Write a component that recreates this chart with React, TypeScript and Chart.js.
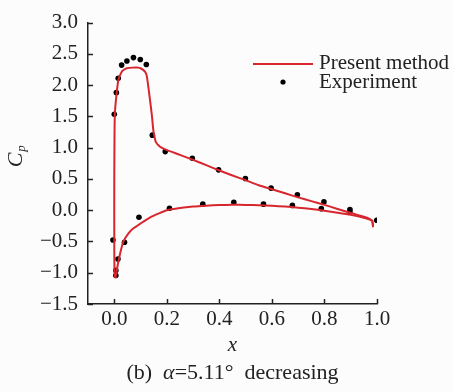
import React, { useEffect, useRef } from "react";
import { Chart, registerables } from "chart.js";

Chart.register(...registerables);

// Present method: upper surface (trailing edge -> leading edge)
const upperX = [0.985, 0.982, 0.97, 0.95, 0.9, 0.85, 0.8, 0.75, 0.7, 0.65, 0.6, 0.55, 0.5, 0.45, 0.4, 0.35, 0.3, 0.25, 0.2, 0.18, 0.168, 0.16, 0.156, 0.149, 0.143, 0.134, 0.124, 0.118, 0.111, 0.1, 0.092, 0.07, 0.048, 0.038, 0.029, 0.016, 0.008, 0.002, 0.0, 0.0, 0.001, 0.004];
const upperY = [-0.27, -0.17, -0.135, -0.105, -0.045, 0.02, 0.085, 0.145, 0.205, 0.27, 0.335, 0.4, 0.48, 0.555, 0.635, 0.72, 0.805, 0.885, 0.96, 1.0, 1.04, 1.08, 1.12, 1.27, 1.52, 1.83, 2.14, 2.21, 2.24, 2.27, 2.28, 2.28, 2.27, 2.25, 2.22, 2.09, 1.83, 1.52, 0.5, -0.5, -1.0, -1.086];

// Present method: lower surface (leading edge -> trailing edge)
const lowerX = [0.004, 0.008, 0.013, 0.023, 0.035, 0.054, 0.073, 0.099, 0.137, 0.17, 0.2, 0.25, 0.3, 0.35, 0.4, 0.45, 0.5, 0.55, 0.6, 0.65, 0.7, 0.75, 0.8, 0.85, 0.9, 0.95, 0.975, 0.982, 0.985];
const lowerY = [-1.086, -1.0, -0.88, -0.68, -0.5, -0.37, -0.29, -0.215, -0.113, -0.05, 0.0, 0.035, 0.058, 0.072, 0.082, 0.086, 0.085, 0.08, 0.07, 0.058, 0.04, 0.018, -0.008, -0.04, -0.075, -0.12, -0.155, -0.17, -0.27];

// Experiment
const expX = [0.0, 0.008, 0.015, 0.028, 0.048, 0.073, 0.099, 0.122, 0.145, 0.194, 0.297, 0.397, 0.499, 0.597, 0.697, 0.798, 0.897, 0.999, -0.005, 0.006, 0.006, 0.014, 0.039, 0.094, 0.21, 0.337, 0.455, 0.568, 0.678, 0.788, 0.897];
const expY = [1.535, 1.88, 2.11, 2.32, 2.385, 2.44, 2.41, 2.33, 1.2, 0.937, 0.83, 0.645, 0.507, 0.353, 0.246, 0.133, 0.01, -0.16, -0.476, -1.045, -0.963, -0.78, -0.513, -0.113, 0.03, 0.097, 0.127, 0.097, 0.077, 0.025, -0.03];

const xTicks = [0.0, 0.2, 0.4, 0.6, 0.8, 1.0];
const yTicks = [-1.5, -1.0, -0.5, 0.0, 0.5, 1.0, 1.5, 2.0, 2.5, 3.0];

const seriesLabels = ["Present method", "Experiment"];
const xTitle = "x";
const captionParts = ["(b)  ", "α", "=5.11°  decreasing"];

const FONT = "'Liberation Serif', 'Times New Roman', serif";
const RED = "#d8262e";
const INK = "#222222";

const fmt = (v: number) => {
  const s = Math.abs(v).toFixed(1);
  return v < 0 ? "\u2212" + s : s;
};

const overlay = {
  id: "overlay",
  afterDraw(chart: any) {
    const { ctx, chartArea, scales } = chart;
    const xs = scales.x;
    const ys = scales.y;
    ctx.save();
    // inward ticks
    ctx.strokeStyle = INK;
    ctx.lineWidth = 1.5;
    ctx.beginPath();
    xs.ticks.forEach((t: any) => {
      const px = Math.round(xs.getPixelForValue(t.value)) + 0.5;
      ctx.moveTo(px, chartArea.bottom);
      ctx.lineTo(px, chartArea.bottom - 5);
    });
    ys.ticks.forEach((t: any) => {
      const py = Math.round(ys.getPixelForValue(t.value)) + 0.5;
      ctx.moveTo(chartArea.left, py);
      ctx.lineTo(chartArea.left + 5, py);
    });
    ctx.stroke();

    // legend
    ctx.strokeStyle = RED;
    ctx.lineWidth = 2;
    ctx.beginPath();
    ctx.moveTo(253, 64);
    ctx.lineTo(313, 64);
    ctx.stroke();
    ctx.fillStyle = "#000";
    ctx.beginPath();
    ctx.arc(283, 82, 2.6, 0, Math.PI * 2);
    ctx.fill();
    ctx.fillStyle = INK;
    ctx.font = `21px ${FONT}`;
    ctx.textAlign = "left";
    ctx.textBaseline = "middle";
    ctx.fillText(seriesLabels[0], 319, 63);
    ctx.fillText(seriesLabels[1], 319, 82);

    // x title
    const cx = (chartArea.left + chartArea.right) / 2;
    ctx.font = `italic 21px ${FONT}`;
    ctx.textAlign = "center";
    ctx.fillText(xTitle, cx, 345);

    // caption
    const fonts = [`22px ${FONT}`, `italic 22px ${FONT}`, `22px ${FONT}`];
    let total = 0;
    const widths = captionParts.map((p, i) => {
      ctx.font = fonts[i];
      const w = ctx.measureText(p).width;
      total += w;
      return w;
    });
    let x0 = cx - total / 2;
    ctx.textAlign = "left";
    captionParts.forEach((p, i) => {
      ctx.font = fonts[i];
      ctx.fillText(p, x0, 373);
      x0 += widths[i];
    });

    // y title C_p
    ctx.translate(16, 157);
    ctx.rotate(-Math.PI / 2);
    ctx.textAlign = "left";
    ctx.font = `italic 22px ${FONT}`;
    const cw = ctx.measureText("C").width;
    ctx.fillText("C", -cw / 2 - 3, 0);
    ctx.font = `italic 13px ${FONT}`;
    ctx.fillText("p", cw / 2 - 2, 6);
    ctx.restore();
  },
};

export default function App() {
  const ref = useRef<HTMLCanvasElement | null>(null);
  useEffect(() => {
    if (!ref.current) return;
    const toPts = (xs: number[], ys: number[]) => xs.map((x, i) => ({ x, y: ys[i] }));
    const chart = new Chart(ref.current, {
      type: "scatter",
      data: {
        datasets: [
          {
            label: seriesLabels[0],
            data: toPts(upperX, upperY),
            showLine: true,
            borderColor: RED,
            borderWidth: 2,
            pointRadius: 0,
            tension: 0.2,
            fill: false,
          },
          {
            label: seriesLabels[0] + " (lower)",
            data: toPts(lowerX, lowerY),
            showLine: true,
            borderColor: RED,
            borderWidth: 2,
            pointRadius: 0,
            tension: 0.2,
            fill: false,
          },
          {
            label: seriesLabels[1],
            data: toPts(expX, expY),
            showLine: false,
            pointRadius: 2.8,
            pointBackgroundColor: "#000",
            pointBorderWidth: 0,
            borderColor: "#000",
          },
        ],
      },
      options: {
        animation: false,
        responsive: false,
        maintainAspectRatio: false,
        layout: { padding: { top: 13, right: 77, left: 0, bottom: 0 } },
        plugins: { legend: { display: false }, tooltip: { enabled: false } },
        scales: {
          x: {
            type: "linear",
            min: -0.1,
            max: 1.0,
            afterBuildTicks: (s: any) => {
              s.ticks = xTicks.map((v) => ({ value: v }));
            },
            afterFit: (s: any) => {
              s.height = 88;
            },
            grid: { display: false, tickLength: 0 },
            border: { display: true, color: INK, width: 1.5 },
            ticks: {
              color: INK,
              padding: 3,
              font: { family: FONT, size: 21 },
              callback: (v: any) => fmt(Number(v)),
              maxRotation: 0,
            },
          },
          y: {
            type: "linear",
            min: -1.5,
            max: 3.0,
            afterBuildTicks: (s: any) => {
              s.ticks = yTicks.map((v) => ({ value: v }));
            },
            afterFit: (s: any) => {
              s.width = 88;
            },
            grid: { display: false, tickLength: 0 },
            border: { display: true, color: INK, width: 1.5 },
            ticks: {
              color: INK,
              padding: 10,
              font: { family: FONT, size: 21 },
              callback: (v: any) => fmt(Number(v)),
            },
          },
        },
      },
      plugins: [overlay],
    });
    return () => chart.destroy();
  }, []);
  return (
    <div style={{ position: "fixed", left: 0, top: 0, width: 454, height: 392, background: "#fcfcfc" }}>
      <canvas ref={ref} width={454} height={392} style={{ width: 454, height: 392, display: "block" }} />
    </div>
  );
}
